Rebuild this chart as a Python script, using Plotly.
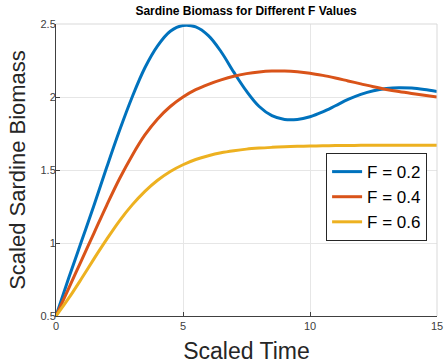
import plotly.graph_objects as go

time = [0, 0.5, 1, 1.5, 2, 2.5, 3, 3.5, 4, 4.5, 5, 5.5, 6, 6.5, 7, 7.5, 8, 8.5, 9, 9.5,
        10, 10.5, 11, 11.5, 12, 12.5, 13, 13.5, 14, 14.5, 15]

f02 = [0.5, 0.76, 1.01, 1.26, 1.52, 1.77, 2.0, 2.2, 2.35, 2.45, 2.49, 2.48, 2.42, 2.31, 2.17,
       2.04, 1.935, 1.872, 1.846, 1.846, 1.865, 1.898, 1.94, 1.983, 2.018, 2.043, 2.058, 2.064,
       2.061, 2.051, 2.037]
f04 = [0.5, 0.69, 0.88, 1.07, 1.26, 1.44, 1.6, 1.74, 1.85, 1.935, 2.0, 2.05, 2.087, 2.117,
       2.142, 2.16, 2.172, 2.178, 2.178, 2.173, 2.163, 2.148, 2.13, 2.11, 2.09, 2.07, 2.052,
       2.037, 2.024, 2.012, 2.0]
f06 = [0.5, 0.622, 0.755, 0.893, 1.026, 1.152, 1.261, 1.354, 1.43, 1.49, 1.536, 1.572, 1.598,
       1.618, 1.632, 1.643, 1.65, 1.655, 1.659, 1.662, 1.664, 1.666, 1.667, 1.668, 1.669,
       1.669, 1.67, 1.67, 1.67, 1.67, 1.67]

series = [("F = 0.2", f02, "#0072BD"), ("F = 0.4", f04, "#D95319"), ("F = 0.6", f06, "#EDB120")]

x_ticks = [0, 5, 10, 15]
y_ticks = [0.5, 1, 1.5, 2, 2.5]
y_tick_text = ["0.5", "1", "1.5", "2", "2.5"]

FONT = "Liberation Sans, Arial, Helvetica, sans-serif"

fig = go.Figure()
for name, ys, color in series:
    fig.add_trace(go.Scatter(x=time, y=ys, mode="lines", name=name,
                             line=dict(color=color, width=3, shape="spline", smoothing=1.0)))

fig.update_layout(
    width=445, height=364,
    margin=dict(l=56, r=8, t=24, b=48),
    paper_bgcolor="white", plot_bgcolor="white",
    font=dict(family=FONT, color="#404040"),
    title=dict(text="<b>Sardine Biomass for Different F Values</b>",
               font=dict(size=12, color="#000000", family=FONT),
               x=0.553, xanchor="center", y=0.971, yanchor="middle"),
    showlegend=True,
    legend=dict(x=0.974, xanchor="right", y=0.558, yanchor="top",
                bgcolor="white", bordercolor="#262626", borderwidth=1,
                font=dict(size=17, color="#000000", family=FONT),
                tracegroupgap=0, itemwidth=30),
    xaxis=dict(range=[0, 15], tickvals=x_ticks, ticks="inside", ticklen=4,
               tickcolor="#404040", showline=True, linecolor="#404040", linewidth=1,
               showgrid=True, gridcolor="#e6e6e6", gridwidth=1, zeroline=False,
               automargin=False,
               tickfont=dict(size=11, color="#404040"),
               title=dict(text="Scaled Time", font=dict(size=23, color="#262626"), standoff=12)),
    yaxis=dict(range=[0.5, 2.5], tickvals=y_ticks, ticktext=y_tick_text, ticks="inside",
               ticklen=4, tickcolor="#404040", showline=True, linecolor="#404040", linewidth=1,
               showgrid=True, gridcolor="#e6e6e6", gridwidth=1, zeroline=False,
               automargin=False, ticklabelstandoff=-3,
               tickfont=dict(size=11, color="#404040"),
               title=dict(text="Scaled Sardine Biomass", font=dict(size=22, color="#262626"),
                          standoff=8)),
)

fig.add_shape(type="line", xref="paper", yref="paper", x0=0, x1=1, y0=1, y1=1,
              line=dict(color="#d9d9d9", width=1))
fig.add_shape(type="line", xref="paper", yref="paper", x0=1, x1=1, y0=0, y1=1,
              line=dict(color="#d9d9d9", width=1))

fig.write_html("out.html", config={"displayModeBar": False},
               post_script="document.body.style.margin='0';")
